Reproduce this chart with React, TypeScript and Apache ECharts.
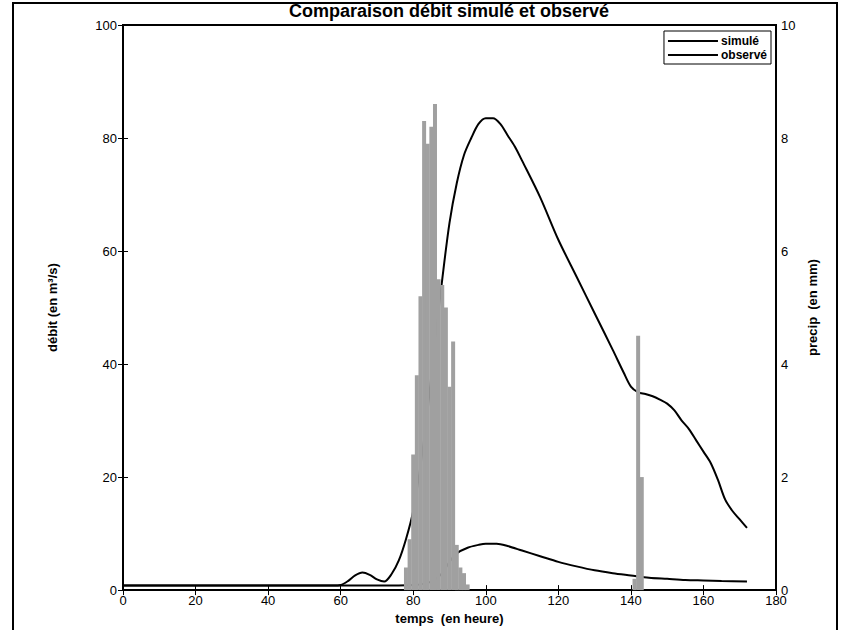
import React, { useEffect, useRef } from "react";
import * as echarts from "echarts";

// Simulated discharge (m3/s) vs time (h)
const simTime = [0, 10, 20, 30, 40, 50, 58, 60, 62, 64, 66, 68, 70, 72, 74, 76, 78, 80, 82, 84, 86, 88, 90, 92, 94, 96, 98, 100, 102, 104, 106, 108, 110, 115, 120, 125, 130, 135, 138, 140, 142, 144, 146, 148, 150, 152, 154, 156, 158, 160, 162, 164, 166, 168, 170, 172];
const simFlow = [0.8, 0.8, 0.8, 0.8, 0.8, 0.8, 0.8, 0.9, 1.6, 2.6, 3.1, 2.7, 1.9, 1.5, 2.8, 5.2, 9, 14, 22, 32, 44, 55, 65, 72, 77, 80, 82.5, 83.5, 83.5, 82.5, 80.5, 78.5, 76, 69.5, 62, 55.5, 49, 42.5, 38.5, 36, 35, 34.7, 34.3, 33.7, 33, 31.8, 30, 28.5, 26.5, 24.5, 22.5, 19.5, 16, 14, 12.5, 11];

// Observed discharge (m3/s) vs time (h)
const obsTime = [0, 20, 40, 60, 70, 80, 85, 88, 90, 92, 95, 98, 100, 103, 106, 110, 115, 120, 125, 130, 135, 140, 145, 150, 155, 160, 165, 172];
const obsFlow = [0.8, 0.8, 0.8, 0.8, 0.8, 0.9, 1.5, 3, 5, 6.5, 7.5, 8, 8.2, 8.2, 7.8, 7, 6, 5, 4.2, 3.5, 3, 2.6, 2.2, 2, 1.8, 1.7, 1.6, 1.5];

// Precipitation (mm) vs time (h)
const precipTime = [78, 79, 80, 81, 82, 83, 84, 85, 86, 87, 88, 89, 90, 91, 92, 93, 94, 95, 141, 142, 143];
const precip = [0.4, 0.9, 2.4, 3.8, 5.2, 8.3, 7.9, 8.2, 8.6, 5.5, 5.4, 5.0, 3.6, 4.4, 0.8, 0.4, 0.3, 0.1, 0.2, 4.5, 2.0];

const FONT = "Liberation Sans, Arial, sans-serif";

export default function App() {
  const ref = useRef<HTMLDivElement>(null);
  useEffect(() => {
    if (!ref.current) return;
    const chart = echarts.init(ref.current, null, { renderer: "svg" });
    const tickStyle = { show: true, inside: true, length: 5, lineStyle: { color: "#000", width: 1 } };
    const nameStyle = { fontFamily: FONT, fontWeight: "bold", fontSize: 13, color: "#000" };
    chart.setOption({
      animation: false,
      backgroundColor: "#fff",
      textStyle: { fontFamily: FONT },
      title: {
        text: "Comparaison débit simulé et observé",
        left: 449,
        textAlign: "center",
        top: 2,
        padding: 0,
        textStyle: { fontFamily: FONT, fontWeight: "bold", fontSize: 18, color: "#000", lineHeight: 18 },
      },
      grid: { left: 123, right: 65, top: 25, bottom: 39, show: true, borderColor: "#000", borderWidth: 2, backgroundColor: "#fff" },
      legend: {
        orient: "vertical",
        right: 70,
        top: 31,
        backgroundColor: "#fff",
        borderColor: "#000",
        borderWidth: 1,
        padding: [4, 4, 3, 4],
        itemGap: 2,
        itemWidth: 50,
        itemHeight: 2,
        icon: "rect",
        textStyle: { fontFamily: FONT, fontWeight: "bold", fontSize: 12, color: "#000", padding: [0, 0, 0, -2] },
        data: ["simulé", "observé"],
      },
      xAxis: [
        {
          type: "value",
          min: 0,
          max: 180,
          interval: 20,
          position: "bottom",
          name: "temps  (en heure)",
          nameLocation: "middle",
          nameGap: 17,
          nameTextStyle: nameStyle,
          axisLine: { show: true, lineStyle: { color: "#000", width: 2 } },
          axisTick: tickStyle,
          axisLabel: { fontFamily: FONT, fontSize: 13, color: "#000", margin: 4 },
          splitLine: { show: false },
        },
        {
          type: "value",
          min: 0,
          max: 180,
          interval: 20,
          position: "top",
          axisLine: { show: true, lineStyle: { color: "#000", width: 2 } },
          axisTick: tickStyle,
          axisLabel: { show: false },
          splitLine: { show: false },
        },
      ],
      yAxis: [
        {
          type: "value",
          min: 0,
          max: 100,
          interval: 20,
          position: "left",
          name: "débit (en m³/s)",
          nameLocation: "middle",
          nameGap: 64,
          nameTextStyle: nameStyle,
          axisLine: { show: true, lineStyle: { color: "#000", width: 2 } },
          axisTick: tickStyle,
          axisLabel: { fontFamily: FONT, fontSize: 13, color: "#000", margin: 6 },
          splitLine: { show: false },
        },
        {
          type: "value",
          min: 0,
          max: 10,
          interval: 2,
          position: "right",
          name: "precip  (en mm)",
          nameLocation: "middle",
          nameGap: 28,
          nameRotate: 90,
          nameTextStyle: nameStyle,
          axisLine: { show: true, lineStyle: { color: "#000", width: 2 } },
          axisTick: tickStyle,
          axisLabel: { fontFamily: FONT, fontSize: 13, color: "#000", margin: 5 },
          splitLine: { show: false },
        },
      ],
      graphic: [
        {
          type: "rect",
          shape: { x: 13, y: 3, width: 824, height: 640 },
          style: { fill: "none", stroke: "#000", lineWidth: 2 },
          silent: true,
          z: -10,
        },
      ],
      series: [
        {
          name: "simulé",
          type: "line",
          xAxisIndex: 0,
          yAxisIndex: 0,
          data: simTime.map((t, i) => [t, simFlow[i]]),
          smooth: 0.3,
          symbol: "none",
          color: "#000",
          lineStyle: { color: "#000", width: 2 },
          z: 2,
        },
        {
          name: "observé",
          type: "line",
          xAxisIndex: 0,
          yAxisIndex: 0,
          data: obsTime.map((t, i) => [t, obsFlow[i]]),
          smooth: 0.3,
          symbol: "none",
          color: "#000",
          lineStyle: { color: "#000", width: 2 },
          z: 2,
        },
        {
          name: "precip",
          type: "bar",
          xAxisIndex: 0,
          yAxisIndex: 1,
          data: precipTime.map((t, i) => [t, precip[i]]),
          barWidth: 4,
          itemStyle: { color: "#a0a0a0" },
          z: 3,
        },
      ],
    });
    return () => chart.dispose();
  }, []);
  return (
    <div
      ref={ref}
      style={{ position: "absolute", left: 0, top: 0, width: 841, height: 630 }}
    />
  );
}
